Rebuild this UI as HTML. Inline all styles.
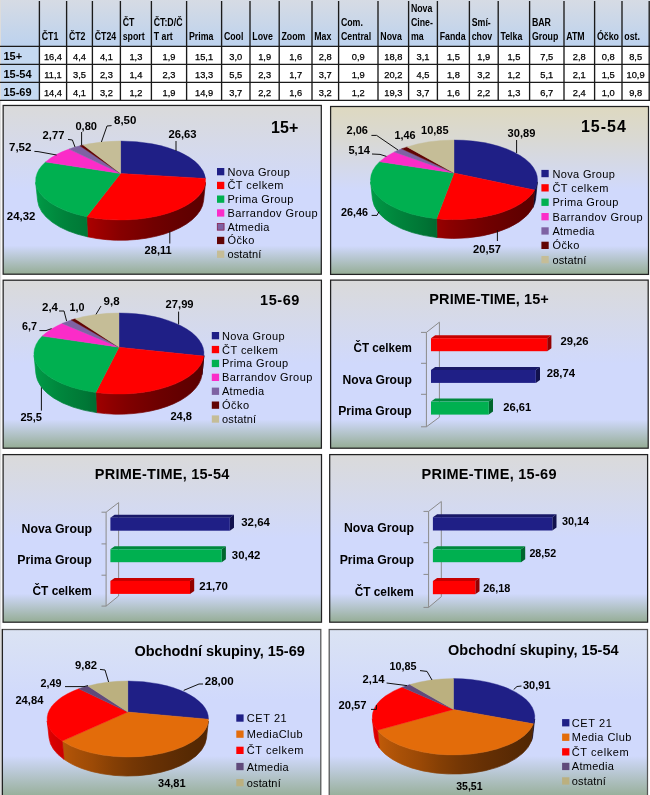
<!DOCTYPE html>
<html lang="cs"><head><meta charset="utf-8"><title>Podíly TV skupin</title>
<style>html,body{margin:0;padding:0;background:#fff;}svg{display:block;font-family:"Liberation Sans", sans-serif;}</style>
</head><body>
<svg width="650" height="795" viewBox="0 0 650 795">
<defs>
<linearGradient id="hg" x1="0" y1="0" x2="0" y2="1"><stop offset="0" stop-color="#d6dbe4"/><stop offset="1" stop-color="#bcd2ee"/></linearGradient>
<linearGradient id="pgA" x1="0" y1="0" x2="0" y2="1"><stop offset="0" stop-color="#dadada"/><stop offset="0.5" stop-color="#d0d9fc"/><stop offset="0.83" stop-color="#d0d9fc"/><stop offset="1" stop-color="#95ad95"/></linearGradient>
<linearGradient id="pgB" x1="0" y1="0" x2="0" y2="1"><stop offset="0" stop-color="#ded9c0"/><stop offset="0.2" stop-color="#d9d9d4"/><stop offset="0.5" stop-color="#d0d9fc"/><stop offset="0.83" stop-color="#d0d9fc"/><stop offset="1" stop-color="#95ad95"/></linearGradient>
<linearGradient id="pgC" x1="0" y1="0" x2="0" y2="1"><stop offset="0" stop-color="#dbe3f3"/><stop offset="0.42" stop-color="#d0d9fc"/><stop offset="0.75" stop-color="#d0d9fc"/><stop offset="1" stop-color="#95ad95"/></linearGradient>
<linearGradient id="w1" gradientUnits="userSpaceOnUse" x1="205.5" y1="0" x2="86.7" y2="0"><stop offset="0.000" stop-color="#5c0000"/><stop offset="0.017" stop-color="#5d0000"/><stop offset="0.057" stop-color="#5e0000"/><stop offset="0.121" stop-color="#600000"/><stop offset="0.207" stop-color="#640000"/><stop offset="0.315" stop-color="#6a0000"/><stop offset="0.440" stop-color="#710000"/><stop offset="0.577" stop-color="#7c0000"/><stop offset="0.720" stop-color="#870000"/><stop offset="0.864" stop-color="#990000"/><stop offset="1.000" stop-color="#ac0000"/></linearGradient>
<linearGradient id="w2" gradientUnits="userSpaceOnUse" x1="87.5" y1="0" x2="35.7" y2="0"><stop offset="0.017" stop-color="#007736"/><stop offset="0.189" stop-color="#007c38"/><stop offset="0.348" stop-color="#00803a"/><stop offset="0.492" stop-color="#00853c"/><stop offset="0.620" stop-color="#008a3e"/><stop offset="0.730" stop-color="#008f41"/><stop offset="0.822" stop-color="#009242"/><stop offset="0.894" stop-color="#009644"/><stop offset="0.948" stop-color="#009a46"/><stop offset="0.983" stop-color="#009e47"/><stop offset="1.000" stop-color="#00a149"/></linearGradient>
<linearGradient id="w3" gradientUnits="userSpaceOnUse" x1="537.4" y1="0" x2="532.9" y2="0"><stop offset="0.000" stop-color="#0b0b30"/><stop offset="0.023" stop-color="#0b0b30"/><stop offset="0.054" stop-color="#0b0b30"/><stop offset="0.093" stop-color="#0b0b30"/><stop offset="0.141" stop-color="#0b0b30"/><stop offset="0.196" stop-color="#0b0b30"/><stop offset="0.260" stop-color="#0b0b30"/><stop offset="0.332" stop-color="#0b0b30"/><stop offset="0.412" stop-color="#0b0b30"/><stop offset="0.501" stop-color="#0b0b30"/><stop offset="0.598" stop-color="#0b0b30"/></linearGradient>
<linearGradient id="w4" gradientUnits="userSpaceOnUse" x1="534.7" y1="0" x2="436.6" y2="0"><stop offset="0.000" stop-color="#5d0000"/><stop offset="0.039" stop-color="#5e0000"/><stop offset="0.095" stop-color="#5f0000"/><stop offset="0.168" stop-color="#620000"/><stop offset="0.258" stop-color="#660000"/><stop offset="0.361" stop-color="#6b0000"/><stop offset="0.477" stop-color="#700000"/><stop offset="0.602" stop-color="#780000"/><stop offset="0.733" stop-color="#810000"/><stop offset="0.867" stop-color="#8b0000"/><stop offset="1.000" stop-color="#990000"/></linearGradient>
<linearGradient id="w5" gradientUnits="userSpaceOnUse" x1="437.0" y1="0" x2="370.6" y2="0"><stop offset="0.007" stop-color="#006930"/><stop offset="0.174" stop-color="#007334"/><stop offset="0.332" stop-color="#007a37"/><stop offset="0.477" stop-color="#00803a"/><stop offset="0.608" stop-color="#00853c"/><stop offset="0.721" stop-color="#008b3f"/><stop offset="0.816" stop-color="#009041"/><stop offset="0.892" stop-color="#009443"/><stop offset="0.947" stop-color="#009945"/><stop offset="0.983" stop-color="#009d47"/><stop offset="1.000" stop-color="#00a149"/></linearGradient>
<linearGradient id="w6" gradientUnits="userSpaceOnUse" x1="203.9" y1="0" x2="202.0" y2="0"><stop offset="0.000" stop-color="#0b0b30"/><stop offset="0.004" stop-color="#0b0b30"/><stop offset="0.008" stop-color="#0b0b30"/><stop offset="0.013" stop-color="#0b0b30"/><stop offset="0.018" stop-color="#0b0b30"/><stop offset="0.022" stop-color="#0b0b30"/><stop offset="0.027" stop-color="#0b0b30"/><stop offset="0.033" stop-color="#0b0b30"/><stop offset="0.038" stop-color="#0b0b30"/><stop offset="0.044" stop-color="#0b0b30"/><stop offset="0.049" stop-color="#0b0b30"/></linearGradient>
<linearGradient id="w7" gradientUnits="userSpaceOnUse" x1="203.8" y1="0" x2="95.8" y2="0"><stop offset="0.000" stop-color="#5c0000"/><stop offset="0.019" stop-color="#5c0000"/><stop offset="0.060" stop-color="#5d0000"/><stop offset="0.123" stop-color="#600000"/><stop offset="0.207" stop-color="#630000"/><stop offset="0.312" stop-color="#680000"/><stop offset="0.433" stop-color="#6e0000"/><stop offset="0.568" stop-color="#770000"/><stop offset="0.711" stop-color="#810000"/><stop offset="0.857" stop-color="#8f0000"/><stop offset="1.000" stop-color="#a00000"/></linearGradient>
<linearGradient id="w8" gradientUnits="userSpaceOnUse" x1="96.4" y1="0" x2="34.1" y2="0"><stop offset="0.009" stop-color="#006e32"/><stop offset="0.178" stop-color="#007736"/><stop offset="0.336" stop-color="#007d38"/><stop offset="0.482" stop-color="#00823b"/><stop offset="0.612" stop-color="#00873d"/><stop offset="0.724" stop-color="#008d40"/><stop offset="0.818" stop-color="#009142"/><stop offset="0.893" stop-color="#009644"/><stop offset="0.948" stop-color="#009a46"/><stop offset="0.983" stop-color="#009e48"/><stop offset="1.000" stop-color="#00a249"/></linearGradient>
<linearGradient id="w9" gradientUnits="userSpaceOnUse" x1="208.4" y1="0" x2="62.2" y2="0"><stop offset="0.000" stop-color="#522703"/><stop offset="0.020" stop-color="#532703"/><stop offset="0.069" stop-color="#542803"/><stop offset="0.148" stop-color="#582a03"/><stop offset="0.253" stop-color="#5f2d04"/><stop offset="0.379" stop-color="#683104"/><stop offset="0.518" stop-color="#753705"/><stop offset="0.660" stop-color="#874005"/><stop offset="0.793" stop-color="#9c4a06"/><stop offset="0.909" stop-color="#a95007"/><stop offset="1.000" stop-color="#b65608"/></linearGradient>
<linearGradient id="w10" gradientUnits="userSpaceOnUse" x1="63.9" y1="0" x2="47.2" y2="0"><stop offset="0.102" stop-color="#cc0000"/><stop offset="0.262" stop-color="#d00000"/><stop offset="0.406" stop-color="#d30000"/><stop offset="0.535" stop-color="#d60000"/><stop offset="0.648" stop-color="#d80000"/><stop offset="0.745" stop-color="#db0000"/><stop offset="0.827" stop-color="#de0000"/><stop offset="0.893" stop-color="#e10000"/><stop offset="0.943" stop-color="#e40000"/><stop offset="0.979" stop-color="#e60000"/><stop offset="1.000" stop-color="#e90000"/></linearGradient>
<linearGradient id="w11" gradientUnits="userSpaceOnUse" x1="534.7" y1="0" x2="531.4" y2="0"><stop offset="0.000" stop-color="#0b0b30"/><stop offset="0.019" stop-color="#0b0b30"/><stop offset="0.043" stop-color="#0b0b30"/><stop offset="0.071" stop-color="#0b0b30"/><stop offset="0.102" stop-color="#0b0b30"/><stop offset="0.138" stop-color="#0b0b30"/><stop offset="0.179" stop-color="#0b0b30"/><stop offset="0.223" stop-color="#0b0b30"/><stop offset="0.272" stop-color="#0b0b30"/><stop offset="0.324" stop-color="#0b0b30"/><stop offset="0.382" stop-color="#0b0b30"/></linearGradient>
<linearGradient id="w12" gradientUnits="userSpaceOnUse" x1="533.4" y1="0" x2="377.5" y2="0"><stop offset="0.000" stop-color="#522703"/><stop offset="0.037" stop-color="#532703"/><stop offset="0.105" stop-color="#572903"/><stop offset="0.202" stop-color="#5e2c04"/><stop offset="0.323" stop-color="#663004"/><stop offset="0.460" stop-color="#733605"/><stop offset="0.601" stop-color="#853f05"/><stop offset="0.734" stop-color="#9b4906"/><stop offset="0.850" stop-color="#a85007"/><stop offset="0.940" stop-color="#b65608"/><stop offset="1.000" stop-color="#c15c08"/></linearGradient>
<linearGradient id="w13" gradientUnits="userSpaceOnUse" x1="379.4" y1="0" x2="372.3" y2="0"><stop offset="0.277" stop-color="#d90000"/><stop offset="0.399" stop-color="#db0000"/><stop offset="0.510" stop-color="#dc0000"/><stop offset="0.609" stop-color="#de0000"/><stop offset="0.698" stop-color="#df0000"/><stop offset="0.775" stop-color="#e10000"/><stop offset="0.841" stop-color="#e20000"/><stop offset="0.897" stop-color="#e40000"/><stop offset="0.942" stop-color="#e60000"/><stop offset="0.976" stop-color="#e70000"/><stop offset="1.000" stop-color="#e90000"/></linearGradient>
</defs>
<rect width="650" height="795" fill="#fff"/>
<rect x="0" y="0" width="1.2" height="795" fill="#dcdcdc"/>
<rect x="1" y="0" width="649" height="46" fill="url(#hg)"/>
<rect x="1" y="46" width="38.5" height="54.5" fill="#c5d9f1"/>
<g stroke="#1a1a1a" stroke-width="1.35">
<line x1="39.4" y1="1" x2="39.4" y2="100.5"/>
<line x1="66.6" y1="1" x2="66.6" y2="100.5"/>
<line x1="92.4" y1="1" x2="92.4" y2="100.5"/>
<line x1="120.4" y1="1" x2="120.4" y2="100.5"/>
<line x1="151.4" y1="1" x2="151.4" y2="100.5"/>
<line x1="186.6" y1="1" x2="186.6" y2="100.5"/>
<line x1="221.6" y1="1" x2="221.6" y2="100.5"/>
<line x1="250" y1="1" x2="250" y2="100.5"/>
<line x1="279.2" y1="1" x2="279.2" y2="100.5"/>
<line x1="312" y1="1" x2="312" y2="100.5"/>
<line x1="338.6" y1="1" x2="338.6" y2="100.5"/>
<line x1="378" y1="1" x2="378" y2="100.5"/>
<line x1="408.6" y1="1" x2="408.6" y2="100.5"/>
<line x1="437.4" y1="1" x2="437.4" y2="100.5"/>
<line x1="469.4" y1="1" x2="469.4" y2="100.5"/>
<line x1="498.2" y1="1" x2="498.2" y2="100.5"/>
<line x1="529.6" y1="1" x2="529.6" y2="100.5"/>
<line x1="564" y1="1" x2="564" y2="100.5"/>
<line x1="594.6" y1="1" x2="594.6" y2="100.5"/>
<line x1="622" y1="1" x2="622" y2="100.5"/>
<line x1="649.2" y1="1" x2="649.2" y2="100.5"/>
<line x1="0" y1="46.4" x2="650" y2="46.4"/>
<line x1="0" y1="64.4" x2="650" y2="64.4"/>
<line x1="0" y1="82.4" x2="650" y2="82.4"/>
<line x1="0" y1="100.4" x2="650" y2="100.4"/>
</g>
<g font-family='"Liberation Sans", sans-serif' font-weight="bold" font-size="10.6">
<text transform="translate(41.699999999999996,40) scale(0.83,1)">ČT1</text>
<text transform="translate(68.89999999999999,40) scale(0.83,1)">ČT2</text>
<text transform="translate(94.7,40) scale(0.83,1)">ČT24</text>
<text transform="translate(122.7,26) scale(0.83,1)">ČT</text>
<text transform="translate(122.7,40) scale(0.83,1)">sport</text>
<text transform="translate(153.70000000000002,26) scale(0.83,1)">ČT:D/Č</text>
<text transform="translate(153.70000000000002,40) scale(0.83,1)">T art</text>
<text transform="translate(188.9,40) scale(0.83,1)">Prima</text>
<text transform="translate(223.9,40) scale(0.83,1)">Cool</text>
<text transform="translate(252.3,40) scale(0.83,1)">Love</text>
<text transform="translate(281.5,40) scale(0.83,1)">Zoom</text>
<text transform="translate(314.3,40) scale(0.83,1)">Max</text>
<text transform="translate(340.90000000000003,26) scale(0.83,1)">Com.</text>
<text transform="translate(340.90000000000003,40) scale(0.83,1)">Central</text>
<text transform="translate(380.3,40) scale(0.83,1)">Nova</text>
<text transform="translate(410.90000000000003,12) scale(0.83,1)">Nova</text>
<text transform="translate(410.90000000000003,26) scale(0.83,1)">Cine-</text>
<text transform="translate(410.90000000000003,40) scale(0.83,1)">ma</text>
<text transform="translate(439.7,40) scale(0.83,1)">Fanda</text>
<text transform="translate(471.7,26) scale(0.83,1)">Smí-</text>
<text transform="translate(471.7,40) scale(0.83,1)">chov</text>
<text transform="translate(500.5,40) scale(0.83,1)">Telka</text>
<text transform="translate(531.9,26) scale(0.83,1)">BAR</text>
<text transform="translate(531.9,40) scale(0.83,1)">Group</text>
<text transform="translate(566.3,40) scale(0.83,1)">ATM</text>
<text transform="translate(596.9,40) scale(0.83,1)">Óčko</text>
<text transform="translate(624.3,40) scale(0.83,1)">ost.</text>
</g>
<g font-family='"Liberation Sans", sans-serif' font-size="9.3" text-anchor="middle" stroke="#000" stroke-width="0.25">
<text x="53.0" y="60">16,4</text>
<text x="79.5" y="60">4,4</text>
<text x="106.4" y="60">4,1</text>
<text x="135.9" y="60">1,3</text>
<text x="169.0" y="60">1,9</text>
<text x="204.1" y="60">15,1</text>
<text x="235.8" y="60">3,0</text>
<text x="264.6" y="60">1,9</text>
<text x="295.6" y="60">1,6</text>
<text x="325.3" y="60">2,8</text>
<text x="358.3" y="60">0,9</text>
<text x="393.3" y="60">18,8</text>
<text x="423.0" y="60">3,1</text>
<text x="453.4" y="60">1,5</text>
<text x="483.8" y="60">1,9</text>
<text x="513.9" y="60">1,5</text>
<text x="546.8" y="60">7,5</text>
<text x="579.3" y="60">2,8</text>
<text x="608.3" y="60">0,8</text>
<text x="635.6" y="60">8,5</text>
<text x="53.0" y="78">11,1</text>
<text x="79.5" y="78">3,5</text>
<text x="106.4" y="78">2,3</text>
<text x="135.9" y="78">1,4</text>
<text x="169.0" y="78">2,3</text>
<text x="204.1" y="78">13,3</text>
<text x="235.8" y="78">5,5</text>
<text x="264.6" y="78">2,3</text>
<text x="295.6" y="78">1,7</text>
<text x="325.3" y="78">3,7</text>
<text x="358.3" y="78">1,9</text>
<text x="393.3" y="78">20,2</text>
<text x="423.0" y="78">4,5</text>
<text x="453.4" y="78">1,8</text>
<text x="483.8" y="78">3,2</text>
<text x="513.9" y="78">1,2</text>
<text x="546.8" y="78">5,1</text>
<text x="579.3" y="78">2,1</text>
<text x="608.3" y="78">1,5</text>
<text x="635.6" y="78">10,9</text>
<text x="53.0" y="96">14,4</text>
<text x="79.5" y="96">4,1</text>
<text x="106.4" y="96">3,2</text>
<text x="135.9" y="96">1,2</text>
<text x="169.0" y="96">1,9</text>
<text x="204.1" y="96">14,9</text>
<text x="235.8" y="96">3,7</text>
<text x="264.6" y="96">2,2</text>
<text x="295.6" y="96">1,6</text>
<text x="325.3" y="96">3,2</text>
<text x="358.3" y="96">1,2</text>
<text x="393.3" y="96">19,3</text>
<text x="423.0" y="96">3,7</text>
<text x="453.4" y="96">1,6</text>
<text x="483.8" y="96">2,2</text>
<text x="513.9" y="96">1,3</text>
<text x="546.8" y="96">6,7</text>
<text x="579.3" y="96">2,4</text>
<text x="608.3" y="96">1,0</text>
<text x="635.6" y="96">9,8</text>
</g>
<g font-family='"Liberation Sans", sans-serif' font-weight="bold" font-size="11">
<text x="3.4" y="60.0">15+</text>
<text x="3.4" y="77.8">15-54</text>
<text x="3.4" y="95.6">15-69</text>
</g>
<rect x="3.15" y="105.45" width="318.15" height="168.75" fill="url(#pgA)" stroke="#222" stroke-width="1.25"/>
<rect x="330.6" y="106.5" width="317.90" height="167.90" fill="url(#pgB)" stroke="#222" stroke-width="1.25"/>
<rect x="3.15" y="280.2" width="318.25" height="168.00" fill="url(#pgA)" stroke="#222" stroke-width="1.25"/>
<rect x="330.6" y="280.1" width="317.60" height="168.10" fill="url(#pgA)" stroke="#222" stroke-width="1.25"/>
<rect x="3.1" y="454.6" width="318.40" height="167.60" fill="url(#pgA)" stroke="#222" stroke-width="1.25"/>
<rect x="329.7" y="454.6" width="317.90" height="167.60" fill="url(#pgA)" stroke="#222" stroke-width="1.25"/>
<rect x="2.4" y="629.5" width="318.40" height="168.50" fill="url(#pgC)" stroke="#555" stroke-width="1.25"/>
<rect x="329.2" y="629.5" width="318.30" height="168.50" fill="url(#pgC)" stroke="#555" stroke-width="1.25"/>
<line x1="2.4" y1="629" x2="2.4" y2="795" stroke="#222" stroke-width="1.25"/>
<path d="M205.5 182.4A85.0 39.5 0 0 1 86.7 216.7L87.5 236.8A83.1 41.8 0 0 0 203.6 200.6Z" fill="url(#w1)" stroke="url(#w1)" stroke-width="0.7"/>
<path d="M86.7 216.7A85.0 39.5 0 0 1 35.7 182.4L37.6 200.6A83.1 41.8 0 0 0 87.5 236.8Z" fill="url(#w2)" stroke="url(#w2)" stroke-width="0.7"/>
<path d="M120.6 173.5L120.6 141.0A85.0 39.5 0 0 1 205.5 178.4Z" fill="#1f1f86" stroke="#1f1f86" stroke-width="0.4"/>
<path d="M120.6 173.5L205.5 178.4A85.0 39.5 0 0 1 86.7 216.7Z" fill="#ff0000" stroke="#ff0000" stroke-width="0.4"/>
<path d="M120.6 173.5L86.7 216.7A85.0 39.5 0 0 1 45.5 162.0Z" fill="#00b050" stroke="#00b050" stroke-width="0.4"/>
<path d="M120.6 173.5L45.5 162.0A85.0 39.5 0 0 1 69.0 149.1Z" fill="#fb2cc8" stroke="#fb2cc8" stroke-width="0.4"/>
<path d="M120.6 173.5L69.0 149.1A85.0 39.5 0 0 1 79.9 145.8Z" fill="#7e62a3" stroke="#7e62a3" stroke-width="0.4"/>
<path d="M120.6 173.5L79.9 145.8A85.0 39.5 0 0 1 83.2 145.0Z" fill="#620404" stroke="#620404" stroke-width="0.4"/>
<path d="M120.6 173.5L83.2 145.0A85.0 39.5 0 0 1 120.6 141.0Z" fill="#c5bd97" stroke="#c5bd97" stroke-width="0.4"/>
<path d="M537.4 181.8A83.5 39.8 0 0 1 534.7 190.0L532.9 207.5A81.7 41.8 0 0 0 535.6 198.9Z" fill="url(#w3)" stroke="url(#w3)" stroke-width="0.7"/>
<path d="M534.7 190.0A83.5 39.8 0 0 1 436.6 218.7L437.0 237.5A81.7 41.8 0 0 0 532.9 207.5Z" fill="url(#w4)" stroke="url(#w4)" stroke-width="0.7"/>
<path d="M436.6 218.7A83.5 39.8 0 0 1 370.6 181.8L372.4 198.9A81.7 41.8 0 0 0 437.0 237.5Z" fill="url(#w5)" stroke="url(#w5)" stroke-width="0.7"/>
<path d="M454.0 173.0L454.0 140.0A83.5 39.8 0 0 1 534.7 190.0Z" fill="#1f1f86" stroke="#1f1f86" stroke-width="0.4"/>
<path d="M454.0 173.0L534.7 190.0A83.5 39.8 0 0 1 436.6 218.7Z" fill="#ff0000" stroke="#ff0000" stroke-width="0.4"/>
<path d="M454.0 173.0L436.6 218.7A83.5 39.8 0 0 1 379.6 161.7Z" fill="#00b050" stroke="#00b050" stroke-width="0.4"/>
<path d="M454.0 173.0L379.6 161.7A83.5 39.8 0 0 1 394.3 152.0Z" fill="#fb2cc8" stroke="#fb2cc8" stroke-width="0.4"/>
<path d="M454.0 173.0L394.3 152.0A83.5 39.8 0 0 1 401.6 148.8Z" fill="#7e62a3" stroke="#7e62a3" stroke-width="0.4"/>
<path d="M454.0 173.0L401.6 148.8A83.5 39.8 0 0 1 407.1 146.9Z" fill="#620404" stroke="#620404" stroke-width="0.4"/>
<path d="M454.0 173.0L407.1 146.9A83.5 39.8 0 0 1 454.0 140.0Z" fill="#c5bd97" stroke="#c5bd97" stroke-width="0.4"/>
<path d="M203.9 355.4A85.0 40.5 0 0 1 203.8 356.1L202.0 374.6A83.2 42.5 0 0 0 202.1 373.8Z" fill="url(#w6)" stroke="url(#w6)" stroke-width="0.7"/>
<path d="M203.8 356.1A85.0 40.5 0 0 1 95.8 392.5L96.4 412.6A83.2 42.5 0 0 0 202.0 374.6Z" fill="url(#w7)" stroke="url(#w7)" stroke-width="0.7"/>
<path d="M95.8 392.5A85.0 40.5 0 0 1 34.1 355.4L35.9 373.8A83.2 42.5 0 0 0 96.4 412.6Z" fill="url(#w8)" stroke="url(#w8)" stroke-width="0.7"/>
<path d="M119.0 347.2L119.0 313.0A85.0 40.5 0 0 1 203.8 356.1Z" fill="#1f1f86" stroke="#1f1f86" stroke-width="0.4"/>
<path d="M119.0 347.2L203.8 356.1A85.0 40.5 0 0 1 95.8 392.5Z" fill="#ff0000" stroke="#ff0000" stroke-width="0.4"/>
<path d="M119.0 347.2L95.8 392.5A85.0 40.5 0 0 1 42.2 336.1Z" fill="#00b050" stroke="#00b050" stroke-width="0.4"/>
<path d="M119.0 347.2L42.2 336.1A85.0 40.5 0 0 1 62.1 323.4Z" fill="#fb2cc8" stroke="#fb2cc8" stroke-width="0.4"/>
<path d="M119.0 347.2L62.1 323.4A85.0 40.5 0 0 1 71.2 320.0Z" fill="#7e62a3" stroke="#7e62a3" stroke-width="0.4"/>
<path d="M119.0 347.2L71.2 320.0A85.0 40.5 0 0 1 75.2 318.8Z" fill="#620404" stroke="#620404" stroke-width="0.4"/>
<path d="M119.0 347.2L75.2 318.8A85.0 40.5 0 0 1 119.0 313.0Z" fill="#c5bd97" stroke="#c5bd97" stroke-width="0.4"/>
<path d="M208.4 721.0A80.7 38.0 0 0 1 62.2 741.1L63.9 759.3A78.8 40.2 0 0 0 206.5 738.1Z" fill="url(#w9)" stroke="url(#w9)" stroke-width="0.7"/>
<path d="M62.2 741.1A80.7 38.0 0 0 1 47.2 721.0L49.1 738.1A78.8 40.2 0 0 0 63.9 759.3Z" fill="url(#w10)" stroke="url(#w10)" stroke-width="0.7"/>
<path d="M127.8 712.0L127.8 681.0A80.7 38.0 0 0 1 208.5 719.2Z" fill="#1f1f86" stroke="#1f1f86" stroke-width="0.4"/>
<path d="M127.8 712.0L208.5 719.2A80.7 38.0 0 0 1 62.2 741.1Z" fill="#e36c0a" stroke="#e36c0a" stroke-width="0.4"/>
<path d="M127.8 712.0L62.2 741.1A80.7 38.0 0 0 1 78.8 688.8Z" fill="#ff0000" stroke="#ff0000" stroke-width="0.4"/>
<path d="M127.8 712.0L78.8 688.8A80.7 38.0 0 0 1 87.9 686.0Z" fill="#604a7b" stroke="#604a7b" stroke-width="0.4"/>
<path d="M127.8 712.0L87.9 686.0A80.7 38.0 0 0 1 127.8 681.0Z" fill="#bbb07f" stroke="#bbb07f" stroke-width="0.4"/>
<path d="M534.7 718.9A81.3 38.2 0 0 1 533.4 723.8L531.4 741.1A79.3 40.5 0 0 0 532.7 735.9Z" fill="url(#w11)" stroke="url(#w11)" stroke-width="0.7"/>
<path d="M533.4 723.8A81.3 38.2 0 0 1 377.5 730.3L379.4 748.0A79.3 40.5 0 0 0 531.4 741.1Z" fill="url(#w12)" stroke="url(#w12)" stroke-width="0.7"/>
<path d="M377.5 730.3A81.3 38.2 0 0 1 372.3 718.9L374.3 735.9A79.3 40.5 0 0 0 379.4 748.0Z" fill="url(#w13)" stroke="url(#w13)" stroke-width="0.7"/>
<path d="M453.5 709.4L453.5 678.6A81.3 38.2 0 0 1 533.4 723.8Z" fill="#1f1f86" stroke="#1f1f86" stroke-width="0.4"/>
<path d="M453.5 709.4L533.4 723.8A81.3 38.2 0 0 1 377.5 730.3Z" fill="#e36c0a" stroke="#e36c0a" stroke-width="0.4"/>
<path d="M453.5 709.4L377.5 730.3A81.3 38.2 0 0 1 402.2 687.2Z" fill="#ff0000" stroke="#ff0000" stroke-width="0.4"/>
<path d="M453.5 709.4L402.2 687.2A81.3 38.2 0 0 1 409.8 684.6Z" fill="#604a7b" stroke="#604a7b" stroke-width="0.4"/>
<path d="M453.5 709.4L409.8 684.6A81.3 38.2 0 0 1 453.5 678.6Z" fill="#bbb07f" stroke="#bbb07f" stroke-width="0.4"/>
<g font-family='"Liberation Sans", sans-serif' font-size="11">
<rect x="217.0" y="168.0" width="7.3" height="7.3" fill="#1f1f86"/>
<text x="227.4" y="175.6" textLength="62.5">Nova Group</text>
<rect x="217.0" y="181.8" width="7.3" height="7.3" fill="#ff0000"/>
<text x="227.4" y="189.4" textLength="56.0">ČT celkem</text>
<rect x="217.0" y="195.5" width="7.3" height="7.3" fill="#00b050"/>
<text x="227.4" y="203.1" textLength="66.0">Prima Group</text>
<rect x="217.0" y="209.3" width="7.3" height="7.3" fill="#fb2cc8"/>
<text x="227.4" y="216.9" textLength="90.3">Barrandov Group</text>
<rect x="217.0" y="223.1" width="7.3" height="7.3" fill="#7e62a3"/>
<text x="227.4" y="230.7" textLength="42.0">Atmedia</text>
<rect x="217.0" y="236.8" width="7.3" height="7.3" fill="#620404"/>
<text x="227.4" y="244.4" textLength="27.0">Óčko</text>
<rect x="217.0" y="250.6" width="7.3" height="7.3" fill="#c5bd97"/>
<text x="227.4" y="258.2" textLength="34.0">ostatní</text>
</g>
<rect x="217.3" y="223.4" width="6.7" height="6.7" fill="none" stroke="#8f2a55" stroke-width="0.8"/>
<g font-family='"Liberation Sans", sans-serif' font-size="11">
<rect x="541.4" y="169.9" width="7.3" height="7.3" fill="#1f1f86"/>
<text x="552.4" y="177.5" textLength="62.5">Nova Group</text>
<rect x="541.4" y="184.2" width="7.3" height="7.3" fill="#ff0000"/>
<text x="552.4" y="191.8" textLength="56.0">ČT celkem</text>
<rect x="541.4" y="198.6" width="7.3" height="7.3" fill="#00b050"/>
<text x="552.4" y="206.2" textLength="66.0">Prima Group</text>
<rect x="541.4" y="213.0" width="7.3" height="7.3" fill="#fb2cc8"/>
<text x="552.4" y="220.6" textLength="90.3">Barrandov Group</text>
<rect x="541.4" y="227.3" width="7.3" height="7.3" fill="#7e62a3"/>
<text x="552.4" y="234.9" textLength="42.0">Atmedia</text>
<rect x="541.4" y="241.7" width="7.3" height="7.3" fill="#620404"/>
<text x="552.4" y="249.2" textLength="27.0">Óčko</text>
<rect x="541.4" y="256.0" width="7.3" height="7.3" fill="#c5bd97"/>
<text x="552.4" y="263.6" textLength="34.0">ostatní</text>
</g>
<g font-family='"Liberation Sans", sans-serif' font-size="11">
<rect x="211.8" y="332.0" width="7.3" height="7.3" fill="#1f1f86"/>
<text x="222.0" y="339.6" textLength="62.5">Nova Group</text>
<rect x="211.8" y="345.9" width="7.3" height="7.3" fill="#ff0000"/>
<text x="222.0" y="353.5" textLength="56.0">ČT celkem</text>
<rect x="211.8" y="359.8" width="7.3" height="7.3" fill="#00b050"/>
<text x="222.0" y="367.4" textLength="66.0">Prima Group</text>
<rect x="211.8" y="373.7" width="7.3" height="7.3" fill="#fb2cc8"/>
<text x="222.0" y="381.3" textLength="90.3">Barrandov Group</text>
<rect x="211.8" y="387.6" width="7.3" height="7.3" fill="#7e62a3"/>
<text x="222.0" y="395.2" textLength="42.0">Atmedia</text>
<rect x="211.8" y="401.5" width="7.3" height="7.3" fill="#620404"/>
<text x="222.0" y="409.1" textLength="27.0">Óčko</text>
<rect x="211.8" y="415.4" width="7.3" height="7.3" fill="#c5bd97"/>
<text x="222.0" y="423.0" textLength="34.0">ostatní</text>
</g>
<g font-family='"Liberation Sans", sans-serif' font-size="11">
<rect x="236.3" y="714.4" width="7.3" height="7.3" fill="#1f1f86"/>
<text x="246.7" y="722.0" textLength="40.0">CET 21</text>
<rect x="236.3" y="730.5" width="7.3" height="7.3" fill="#e36c0a"/>
<text x="246.7" y="738.1" textLength="55.9">MediaClub</text>
<rect x="236.3" y="746.7" width="7.3" height="7.3" fill="#ff0000"/>
<text x="246.7" y="754.3" textLength="56.8">ČT celkem</text>
<rect x="236.3" y="762.9" width="7.3" height="7.3" fill="#604a7b"/>
<text x="246.7" y="770.5" textLength="42.0">Atmedia</text>
<rect x="236.3" y="779.0" width="7.3" height="7.3" fill="#bbb07f"/>
<text x="246.7" y="786.6" textLength="34.0">ostatní</text>
</g>
<g font-family='"Liberation Sans", sans-serif' font-size="11">
<rect x="562.1" y="719.1" width="7.3" height="7.3" fill="#1f1f86"/>
<text x="571.8" y="726.7" textLength="40.0">CET 21</text>
<rect x="562.1" y="733.6" width="7.3" height="7.3" fill="#e36c0a"/>
<text x="571.8" y="741.2" textLength="59.5">Media Club</text>
<rect x="562.1" y="748.2" width="7.3" height="7.3" fill="#ff0000"/>
<text x="571.8" y="755.8" textLength="56.8">ČT celkem</text>
<rect x="562.1" y="762.8" width="7.3" height="7.3" fill="#604a7b"/>
<text x="571.8" y="770.4" textLength="42.0">Atmedia</text>
<rect x="562.1" y="777.3" width="7.3" height="7.3" fill="#bbb07f"/>
<text x="571.8" y="784.9" textLength="34.0">ostatní</text>
</g>
<g font-family='"Liberation Sans", sans-serif' font-weight="bold">
<text x="271.0" y="133.0" font-size="16" textLength="27.4" lengthAdjust="spacing">15+</text>
<text x="580.9" y="131.6" font-size="16" textLength="45.0" lengthAdjust="spacing">15-54</text>
<text x="260.0" y="305.3" font-size="14.5" textLength="39.4" lengthAdjust="spacing">15-69</text>
<text x="429.3" y="304.2" font-size="14.5" textLength="119.5" lengthAdjust="spacing">PRIME-TIME, 15+</text>
<text x="94.8" y="478.7" font-size="14.5" textLength="134.5" lengthAdjust="spacing">PRIME-TIME, 15-54</text>
<text x="421.5" y="478.7" font-size="14.5" textLength="135.0" lengthAdjust="spacing">PRIME-TIME, 15-69</text>
<text x="134.5" y="655.5" font-size="14.5" textLength="170.3" lengthAdjust="spacing">Obchodní skupiny, 15-69</text>
<text x="448.0" y="654.6" font-size="14.5" textLength="170.6" lengthAdjust="spacing">Obchodní skupiny, 15-54</text>
</g>
<g font-family='"Liberation Sans", sans-serif' font-weight="bold" font-size="10.4">
<text x="9.0" y="151.4" font-size="10.4" textLength="22.4" lengthAdjust="spacingAndGlyphs">7,52</text>
<text x="42.6" y="138.6" font-size="10.4" textLength="21.8" lengthAdjust="spacingAndGlyphs">2,77</text>
<text x="75.4" y="130.4" font-size="10.4" textLength="21.6" lengthAdjust="spacingAndGlyphs">0,80</text>
<text x="114.0" y="124.4" font-size="10.4" textLength="22.4" lengthAdjust="spacingAndGlyphs">8,50</text>
<text x="168.4" y="138.4" font-size="10.4" textLength="28.2" lengthAdjust="spacingAndGlyphs">26,63</text>
<text x="6.8" y="219.8" font-size="10.4" textLength="28.6" lengthAdjust="spacingAndGlyphs">24,32</text>
<text x="144.6" y="253.6" font-size="10.4" textLength="27.1" lengthAdjust="spacingAndGlyphs">28,11</text>
<text x="346.6" y="134.0" font-size="10.4" textLength="21.4" lengthAdjust="spacingAndGlyphs">2,06</text>
<text x="348.4" y="153.6" font-size="10.4" textLength="21.6" lengthAdjust="spacingAndGlyphs">5,14</text>
<text x="394.4" y="138.6" font-size="10.4" textLength="21.2" lengthAdjust="spacingAndGlyphs">1,46</text>
<text x="421.0" y="134.0" font-size="10.4" textLength="27.6" lengthAdjust="spacingAndGlyphs">10,85</text>
<text x="341.0" y="216.0" font-size="10.4" textLength="27.0" lengthAdjust="spacingAndGlyphs">26,46</text>
<text x="507.6" y="137.0" font-size="10.4" textLength="27.8" lengthAdjust="spacingAndGlyphs">30,89</text>
<text x="473.0" y="252.5" font-size="10.4" textLength="28.0" lengthAdjust="spacingAndGlyphs">20,57</text>
<text x="42.0" y="310.6" font-size="10.4" textLength="16.0" lengthAdjust="spacingAndGlyphs">2,4</text>
<text x="69.4" y="311.0" font-size="10.4" textLength="15.0" lengthAdjust="spacingAndGlyphs">1,0</text>
<text x="103.6" y="305.0" font-size="10.4" textLength="16.0" lengthAdjust="spacingAndGlyphs">9,8</text>
<text x="22.0" y="329.6" font-size="10.4" textLength="15.0" lengthAdjust="spacingAndGlyphs">6,7</text>
<text x="20.4" y="421.4" font-size="10.4" textLength="21.6" lengthAdjust="spacingAndGlyphs">25,5</text>
<text x="165.6" y="308.4" font-size="10.4" textLength="28.0" lengthAdjust="spacingAndGlyphs">27,99</text>
<text x="170.4" y="419.6" font-size="10.4" textLength="21.6" lengthAdjust="spacingAndGlyphs">24,8</text>
<text x="75.0" y="669.4" font-size="10.4" textLength="22.0" lengthAdjust="spacingAndGlyphs">9,82</text>
<text x="40.6" y="686.6" font-size="10.4" textLength="21.0" lengthAdjust="spacingAndGlyphs">2,49</text>
<text x="15.4" y="703.6" font-size="10.4" textLength="28.0" lengthAdjust="spacingAndGlyphs">24,84</text>
<text x="204.7" y="684.6" font-size="10.4" textLength="29.0" lengthAdjust="spacingAndGlyphs">28,00</text>
<text x="158.0" y="787.0" font-size="10.4" textLength="27.6" lengthAdjust="spacingAndGlyphs">34,81</text>
<text x="389.4" y="670.4" font-size="10.4" textLength="27.0" lengthAdjust="spacingAndGlyphs">10,85</text>
<text x="362.6" y="683.0" font-size="10.4" textLength="21.8" lengthAdjust="spacingAndGlyphs">2,14</text>
<text x="338.4" y="709.0" font-size="10.4" textLength="28.2" lengthAdjust="spacingAndGlyphs">20,57</text>
<text x="523.0" y="688.5" font-size="10.4" textLength="27.5" lengthAdjust="spacingAndGlyphs">30,91</text>
<text x="456.2" y="790.3" font-size="10.4" textLength="26.4" lengthAdjust="spacingAndGlyphs">35,51</text>
</g>
<g fill="none" stroke="#111" stroke-width="1">
<polyline points="34.4,151.4 38.0,151.6 56.6,155.0"/>
<polyline points="68.0,139.4 72.4,140.0 75.0,147.0"/>
<polyline points="81.6,132.0 81.6,145.6"/>
<polyline points="111.6,125.6 107.0,126.0 101.4,142.0"/>
<polyline points="176.0,141.0 176.0,151.0"/>
<polyline points="169.8,231.0 169.8,243.5"/>
<polyline points="371.4,135.4 376.6,135.4 398.0,150.0"/>
<polyline points="372.0,154.0 380.0,154.4 386.4,156.4"/>
<polyline points="371.6,215.4 377.0,215.4 379.0,211.6"/>
<polyline points="516.6,140.0 516.6,153.0"/>
<polyline points="497.4,230.0 497.4,241.0"/>
<polyline points="59.0,311.0 64.0,311.0 66.6,321.0"/>
<polyline points="101.0,306.0 96.0,314.4"/>
<polyline points="39.4,330.6 46.0,330.6 51.6,328.6"/>
<polyline points="41.4,387.4 41.4,410.6"/>
<polyline points="178.6,311.6 178.6,324.4"/>
<polyline points="100.0,669.4 105.0,670.0 108.6,682.0"/>
<polyline points="65.0,686.6 84.0,686.6 88.0,685.6"/>
<polyline points="183.7,690.4 199.0,684.0 203.0,684.0"/>
<polyline points="420.0,670.6 427.0,671.4 432.0,680.0"/>
<polyline points="386.6,683.0 407.0,685.6"/>
<polyline points="371.0,709.4 376.4,709.4 376.4,705.0"/>
<polyline points="513.7,689.5 517.0,686.5 521.5,686.0"/>
</g>
<g fill="none" stroke="#8a8a8a" stroke-width="1">
<polygon points="426.4,332.4 439.4,322.2 439.4,417.2 426.4,426.8" fill="#d9e0f6" fill-opacity="0.5"/>
<line x1="421" y1="332.4" x2="426.4" y2="332.4"/>
<line x1="421" y1="363.3" x2="426.4" y2="363.3"/>
<line x1="421" y1="394.3" x2="426.4" y2="394.3"/>
<line x1="421" y1="426.8" x2="426.4" y2="426.8"/>
</g>
<polygon points="431,338.2 435.2,335.2 551.4000000000001,335.2 547.2,338.2" fill="#c60000"/>
<polygon points="547.2,338.2 551.4000000000001,335.2 551.4000000000001,348.2 547.2,351.2" fill="#930000"/>
<rect x="431" y="338.2" width="116.2" height="13.0" fill="#ff0000"/>
<polygon points="431,369.9 435.2,366.9 540.0,366.9 535.8,369.9" fill="#181868"/>
<polygon points="535.8,369.9 540.0,366.9 540.0,379.9 535.8,382.9" fill="#11114d"/>
<rect x="431" y="369.9" width="104.8" height="13.0" fill="#1f1f86"/>
<polygon points="431,401.6 435.2,398.6 493.0,398.6 488.8,401.6" fill="#00893e"/>
<polygon points="488.8,401.6 493.0,398.6 493.0,411.6 488.8,414.6" fill="#00662e"/>
<rect x="431" y="401.6" width="57.8" height="13.0" fill="#00b050"/>
<g font-family='"Liberation Sans", sans-serif' font-weight="bold">
<text x="411.8" y="352.4" font-size="12" text-anchor="end" textLength="58.3" lengthAdjust="spacingAndGlyphs">ČT celkem</text>
<text x="411.8" y="383.7" font-size="12" text-anchor="end" textLength="69.3" lengthAdjust="spacingAndGlyphs">Nova Group</text>
<text x="411.8" y="414.6" font-size="12" text-anchor="end" textLength="73.6" lengthAdjust="spacingAndGlyphs">Prima Group</text>
<text x="560.4" y="344.8" font-size="11" textLength="28.2" lengthAdjust="spacingAndGlyphs">29,26</text>
<text x="546.7" y="377.3" font-size="11" textLength="28.4" lengthAdjust="spacingAndGlyphs">28,74</text>
<text x="503.3" y="411.3" font-size="11" textLength="27.9" lengthAdjust="spacingAndGlyphs">26,61</text>
</g>
<g fill="none" stroke="#8a8a8a" stroke-width="1">
<polygon points="106.1,512.2 118.6,502.6 118.6,596 106.1,606.1" fill="#d9e0f6" fill-opacity="0.5"/>
<line x1="101.5" y1="512.2" x2="106.1" y2="512.2"/>
<line x1="101.5" y1="543.9" x2="106.1" y2="543.9"/>
<line x1="101.5" y1="575.2" x2="106.1" y2="575.2"/>
<line x1="101.5" y1="606.1" x2="106.1" y2="606.1"/>
</g>
<polygon points="110.4,517.7 114.60000000000001,514.7 234.0,514.7 229.8,517.7" fill="#181868"/>
<polygon points="229.8,517.7 234.0,514.7 234.0,527.7 229.8,530.7" fill="#11114d"/>
<rect x="110.4" y="517.7" width="119.4" height="13.0" fill="#1f1f86"/>
<polygon points="110.4,549.3 114.60000000000001,546.3 225.89999999999998,546.3 221.7,549.3" fill="#00893e"/>
<polygon points="221.7,549.3 225.89999999999998,546.3 225.89999999999998,559.2 221.7,562.2" fill="#00662e"/>
<rect x="110.4" y="549.3" width="111.3" height="12.9" fill="#00b050"/>
<polygon points="110.4,580.9 114.60000000000001,577.9 194.2,577.9 190,580.9" fill="#c60000"/>
<polygon points="190,580.9 194.2,577.9 194.2,590.9 190,593.9" fill="#930000"/>
<rect x="110.4" y="580.9" width="79.6" height="13.0" fill="#ff0000"/>
<g font-family='"Liberation Sans", sans-serif' font-weight="bold">
<text x="91.9" y="532.5" font-size="12" text-anchor="end" textLength="70.3" lengthAdjust="spacingAndGlyphs">Nova Group</text>
<text x="91.9" y="563.5" font-size="12" text-anchor="end" textLength="74.6" lengthAdjust="spacingAndGlyphs">Prima Group</text>
<text x="91.9" y="594.7" font-size="12" text-anchor="end" textLength="59.4" lengthAdjust="spacingAndGlyphs">ČT celkem</text>
<text x="241.2" y="526.2" font-size="11" textLength="28.7" lengthAdjust="spacingAndGlyphs">32,64</text>
<text x="231.8" y="558.7" font-size="11" textLength="28.5" lengthAdjust="spacingAndGlyphs">30,42</text>
<text x="199.3" y="590.1" font-size="11" textLength="28.7" lengthAdjust="spacingAndGlyphs">21,70</text>
</g>
<g fill="none" stroke="#8a8a8a" stroke-width="1">
<polygon points="428.6,511.4 441.3,501.5 441.3,596.7 428.6,607.4" fill="#d9e0f6" fill-opacity="0.5"/>
<line x1="423.5" y1="511.4" x2="428.6" y2="511.4"/>
<line x1="423.5" y1="542.7" x2="428.6" y2="542.7"/>
<line x1="423.5" y1="574.4" x2="428.6" y2="574.4"/>
<line x1="423.5" y1="607.4" x2="428.6" y2="607.4"/>
</g>
<polygon points="432.9,517.2 437.09999999999997,514.2 556.5,514.2 552.3,517.2" fill="#181868"/>
<polygon points="552.3,517.2 556.5,514.2 556.5,527.5 552.3,530.5" fill="#11114d"/>
<rect x="432.9" y="517.2" width="119.4" height="13.3" fill="#1f1f86"/>
<polygon points="432.9,549.3 437.09999999999997,546.3 525.2,546.3 521,549.3" fill="#00893e"/>
<polygon points="521,549.3 525.2,546.3 525.2,559.2 521,562.2" fill="#00662e"/>
<rect x="432.9" y="549.3" width="88.1" height="12.9" fill="#00b050"/>
<polygon points="432.9,581.0 437.09999999999997,578 479.5,578 475.3,581.0" fill="#c60000"/>
<polygon points="475.3,581.0 479.5,578 479.5,591.2 475.3,594.2" fill="#930000"/>
<rect x="432.9" y="581.0" width="42.4" height="13.2" fill="#ff0000"/>
<g font-family='"Liberation Sans", sans-serif' font-weight="bold">
<text x="413.9" y="531.7" font-size="12" text-anchor="end" textLength="69.9" lengthAdjust="spacingAndGlyphs">Nova Group</text>
<text x="413.9" y="563.5" font-size="12" text-anchor="end" textLength="74.2" lengthAdjust="spacingAndGlyphs">Prima Group</text>
<text x="413.9" y="595.5" font-size="12" text-anchor="end" textLength="59.2" lengthAdjust="spacingAndGlyphs">ČT celkem</text>
<text x="561.9" y="525.4" font-size="11" textLength="27.2" lengthAdjust="spacingAndGlyphs">30,14</text>
<text x="529.4" y="557.4" font-size="11" textLength="26.7" lengthAdjust="spacingAndGlyphs">28,52</text>
<text x="483.2" y="591.7" font-size="11" textLength="27.2" lengthAdjust="spacingAndGlyphs">26,18</text>
</g>
</svg>
</body></html>
